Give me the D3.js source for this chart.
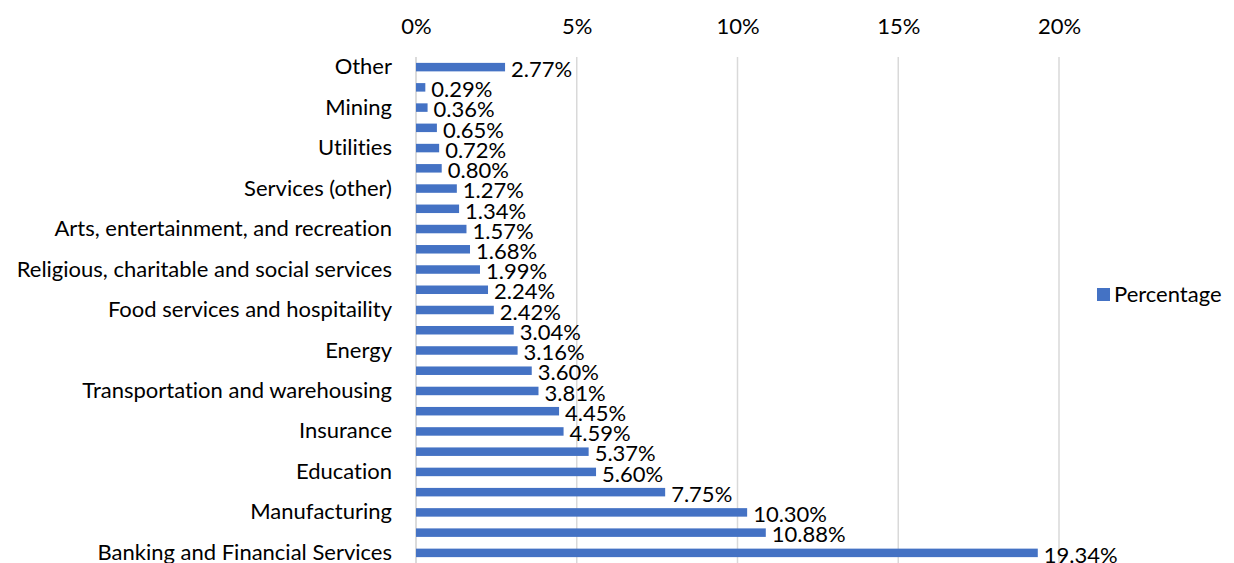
<!DOCTYPE html>
<html>
<head>
<meta charset="utf-8">
<script src="https://cdn.jsdelivr.net/npm/d3@7"></script>
<style>
  html, body { margin: 0; padding: 0; background: #fff; }
  svg { display: block; font-family: Lato, "Open Sans", sans-serif; font-variant-ligatures: none; }
</style>
</head>
<body>
<div id="chart"></div>
<script>
// Categories listed top to bottom (empty string = label not shown in the original)
const categories = [
  "Other", "", "Mining", "", "Utilities", "", "Services (other)", "",
  "Arts, entertainment, and recreation", "", "Religious, charitable and social services", "",
  "Food services and hospitaility", "", "Energy", "", "Transportation and warehousing", "",
  "Insurance", "", "Education", "", "Manufacturing", "", "Banking and Financial Services"
];
const percentages = [
  2.77, 0.29, 0.36, 0.65, 0.72, 0.80, 1.27, 1.34,
  1.57, 1.68, 1.99, 2.24,
  2.42, 3.04, 3.16, 3.60, 3.81, 4.45,
  4.59, 5.37, 5.60, 7.75, 10.30, 10.88, 19.34
];
const xTicks = [0, 5, 10, 15, 20];
const seriesName = "Percentage";

const W = 1234, H = 563;
const margin = { left: 416, right: 175, top: 57, bottom: 0 };
const fontSize = 22;
const barColor = "#4472C4";

const svg = d3.select("#chart").append("svg")
  .attr("width", W).attr("height", H);

const x = d3.scaleLinear().domain([0, 20]).range([margin.left, 1059]);
const y = d3.scaleBand().domain(d3.range(categories.length))
  .range([margin.top, H - margin.bottom]).padding(0);

// Gridlines
svg.append("g").selectAll("line").data(xTicks).join("line")
  .attr("x1", d => x(d)).attr("x2", d => x(d))
  .attr("y1", margin.top).attr("y2", H)
  .attr("stroke", "#d9d9d9").attr("stroke-width", 1.5);

// Top axis labels
const xAxis = d3.axisTop(x).tickValues(xTicks).tickFormat(d => d + "%").tickSize(0).tickPadding(0);
const gx = svg.append("g").attr("transform", `translate(0,34)`).call(xAxis);
gx.select(".domain").remove();
gx.selectAll("text").attr("font-size", fontSize).attr("font-family", "Lato, sans-serif").attr("fill", "#000");

// Left axis labels
const yAxis = d3.axisLeft(y).tickFormat(i => categories[i]).tickSize(0).tickPadding(24);
const gy = svg.append("g").attr("transform", `translate(${margin.left},0)`).call(yAxis);
gy.select(".domain").remove();
gy.selectAll("text").attr("font-size", fontSize).attr("font-family", "Lato, sans-serif").attr("fill", "#000");

// Axis line at 0
svg.append("line").attr("x1", x(0)).attr("x2", x(0)).attr("y1", margin.top).attr("y2", H)
  .attr("stroke", "#d9d9d9").attr("stroke-width", 1.5);

// Bars
const barH = y.bandwidth() * 0.42;
svg.append("g").selectAll("rect").data(percentages).join("rect")
  .attr("x", x(0))
  .attr("y", (d, i) => y(i) + (y.bandwidth() - barH) / 2)
  .attr("width", d => x(d) - x(0))
  .attr("height", barH)
  .attr("fill", barColor);

// Data labels
svg.append("g").selectAll("text").data(percentages).join("text")
  .attr("x", d => x(d) + 6)
  .attr("y", (d, i) => y(i) + y.bandwidth() / 2 + 2)
  .attr("dy", "0.35em")
  .attr("font-size", fontSize)
  .attr("fill", "#000")
  .text(d => d.toFixed(2) + "%");

// Legend
const lg = svg.append("g").attr("transform", "translate(1097,288)");
lg.append("rect").attr("width", 13).attr("height", 13).attr("fill", barColor);
lg.append("text").attr("x", 17).attr("y", 6.5).attr("dy", "0.35em")
  .attr("font-size", fontSize).attr("fill", "#000").text(seriesName);
</script>
</body>
</html>
